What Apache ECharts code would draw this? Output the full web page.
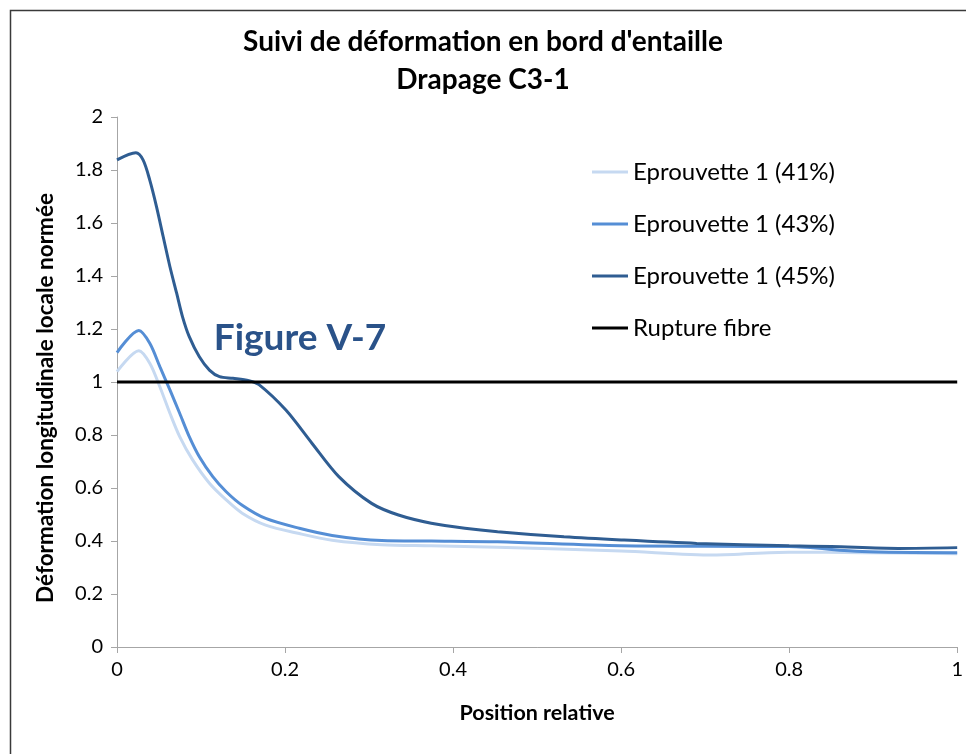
<!DOCTYPE html>
<html>
<head>
<meta charset="utf-8">
<script src="https://cdn.jsdelivr.net/npm/echarts@6/dist/echarts.min.js"></script>
<style>html,body{margin:0;padding:0;background:#fff;overflow:hidden;}#c{width:966px;height:754px;}</style>
</head>
<body>
<div id="c"></div>
<script>
var titleText = "Suivi de déformation en bord d'entaille\nDrapage C3-1";
var xAxisName = "Position relative";
var yAxisName = "Déformation longitudinale locale normée";
var annotation = "Figure V-7";
var seriesNames = ["Eprouvette 1 (41%)", "Eprouvette 1 (43%)", "Eprouvette 1 (45%)", "Rupture fibre"];

var x41 = [0, 0.026, 0.039, 0.051, 0.063, 0.0746, 0.090, 0.110, 0.130, 0.149, 0.177, 0.217, 0.256, 0.315, 0.374, 0.453, 0.6, 0.71, 0.8, 0.887, 1];
var y41 = [1.039, 1.118, 1.071, 0.982, 0.882, 0.794, 0.706, 0.618, 0.555, 0.505, 0.460, 0.428, 0.403, 0.386, 0.382, 0.376, 0.362, 0.347, 0.358, 0.356, 0.352];

var x43 = [0, 0.026, 0.039, 0.051, 0.063, 0.0746, 0.086, 0.098, 0.114, 0.130, 0.149, 0.177, 0.217, 0.256, 0.315, 0.374, 0.453, 0.6, 0.8, 0.887, 1];
var y43 = [1.111, 1.194, 1.146, 1.058, 0.970, 0.882, 0.794, 0.718, 0.643, 0.586, 0.535, 0.485, 0.448, 0.421, 0.402, 0.400, 0.397, 0.382, 0.379, 0.360, 0.356];

var x45 = [0, 0.0225, 0.031, 0.039, 0.047, 0.055, 0.063, 0.071, 0.078, 0.086, 0.098, 0.110, 0.122, 0.138, 0.157, 0.169, 0.201, 0.232, 0.264, 0.303, 0.335, 0.374, 0.414, 0.453, 0.532, 0.6, 0.69, 0.8, 0.85, 0.93, 1];
var y45 = [1.838, 1.865, 1.838, 1.762, 1.662, 1.548, 1.435, 1.335, 1.246, 1.171, 1.095, 1.045, 1.020, 1.014, 1.005, 0.990, 0.894, 0.769, 0.643, 0.542, 0.498, 0.467, 0.448, 0.435, 0.416, 0.404, 0.391, 0.382, 0.379, 0.372, 0.375];

var xRupture = [0, 1];
var yRupture = [1, 1];

function pairs(xs, ys) { return xs.map(function (x, i) { return [x, ys[i]]; }); }

var FONT = 'Lato';
var chart = echarts.init(document.getElementById('c'), null, {renderer: 'canvas', width: 966, height: 754});
var option = {
  animation: false,
  backgroundColor: '#ffffff',
  textStyle: {fontFamily: FONT},
  title: {
    text: titleText,
    left: 'center',
    top: 18,
    textStyle: {fontFamily: FONT, fontSize: 28, fontWeight: 'bold', color: '#000', lineHeight: 38}
  },
  grid: {left: 117, right: 3, top: 117, bottom: 107, containLabel: false},
  legend: {
    orient: 'vertical',
    left: 587,
    top: 155,
    itemWidth: 36,
    itemHeight: 3,
    itemGap: 28,
    icon: 'rect',
    textStyle: {fontFamily: FONT, fontSize: 24, color: '#000'},
    data: seriesNames
  },
  xAxis: {
    type: 'value', min: 0, max: 1, interval: 0.2,
    name: xAxisName, nameLocation: 'middle', nameGap: 55,
    nameTextStyle: {fontFamily: FONT, fontSize: 21.5, fontWeight: 'bold', color: '#000'},
    axisLine: {show: true, lineStyle: {color: '#a6a6a6', width: 1}},
    axisTick: {show: true, length: 6, lineStyle: {color: '#a6a6a6'}},
    splitLine: {show: false},
    axisLabel: {fontFamily: FONT, fontSize: 20, color: '#000', margin: 13}
  },
  yAxis: {
    type: 'value', min: 0, max: 2, interval: 0.2,
    axisLine: {show: true, lineStyle: {color: '#a6a6a6', width: 1}},
    axisTick: {show: true, length: 6, lineStyle: {color: '#a6a6a6'}},
    splitLine: {show: false},
    axisLabel: {fontFamily: FONT, fontSize: 20, color: '#000', margin: 14}
  },
  graphic: [
    {type: 'rect', left: 8, top: 8, silent: true, z: 100,
     shape: {width: 1000, height: 1000},
     style: {fill: 'none', stroke: '#3a3a3a', lineWidth: 1.5}},
    {type: 'text', silent: true,
     position: [46, 398], rotation: Math.PI / 2,
     style: {text: yAxisName, fontFamily: FONT, fontSize: 22.5, fontWeight: 'bold', fill: '#000',
             textAlign: 'center', textVerticalAlign: 'middle'}},
    {type: 'text', silent: true, z: 50,
     position: [300, 338],
     style: {text: annotation, fontFamily: FONT, fontSize: 37, fontWeight: 'bold', fill: '#2a5289',
             textAlign: 'center', textVerticalAlign: 'middle'}}
  ],
  series: [
    {name: seriesNames[0], type: 'line', data: pairs(x41, y41), smooth: 0.3, symbol: 'none',
     lineStyle: {color: '#c6d9f1', width: 3}, itemStyle: {color: '#c6d9f1'}, z: 2},
    {name: seriesNames[1], type: 'line', data: pairs(x43, y43), smooth: 0.3, symbol: 'none',
     lineStyle: {color: '#558ed5', width: 3}, itemStyle: {color: '#558ed5'}, z: 3},
    {name: seriesNames[2], type: 'line', data: pairs(x45, y45), smooth: 0.3, symbol: 'none',
     lineStyle: {color: '#2f5d92', width: 3}, itemStyle: {color: '#2f5d92'}, z: 4},
    {name: seriesNames[3], type: 'line', data: pairs(xRupture, yRupture), symbol: 'none',
     lineStyle: {color: '#000000', width: 3}, itemStyle: {color: '#000000'}, z: 5}
  ]
};
chart.setOption(option);
</script>
</body>
</html>
